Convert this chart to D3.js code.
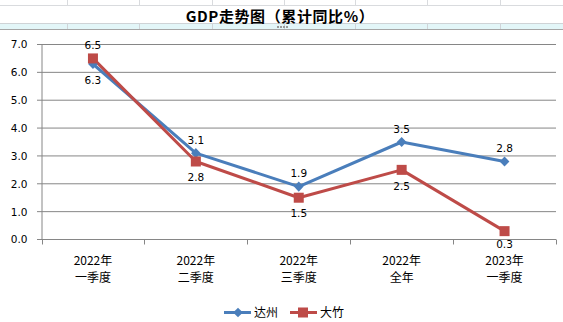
<!DOCTYPE html>
<html><head><meta charset="utf-8">
<script src="https://cdn.jsdelivr.net/npm/d3@7"></script>
<style>body{margin:0;background:#fff;}svg{display:block;}</style>
</head><body>
<svg id="c" width="563" height="322"></svg>
<script>
const categories = [["2022年","一季度"],["2022年","二季度"],["2022年","三季度"],["2022年","全年"],["2023年","一季度"]];
const dazhou = [6.3, 3.1, 1.9, 3.5, 2.8];
const dazhu = [6.5, 2.8, 1.5, 2.5, 0.3];
const dazhouPos = ["below","above","above","above","above"];
const dazhuPos = ["above","below","below","below","below"];
const yTicks = [0,1,2,3,4,5,6,7];
const seriesNames = ["达州","大竹"];

const svg = d3.select("#c");
const numFont = "'DejaVu Sans', sans-serif";
const cjkFont = "'Noto Sans CJK SC', sans-serif";

// spreadsheet background
const colX = [67,139,212,284,355,427,500];
svg.append("line").attr("x1",0).attr("x2",563).attr("y1",5.5).attr("y2",5.5).attr("stroke","#d9dbde");
colX.forEach(x=>{
  svg.append("line").attr("x1",x+0.5).attr("x2",x+0.5).attr("y1",0).attr("y2",5).attr("stroke","#d9dbde");
});
svg.append("rect").attr("x",0).attr("y",23).attr("width",563).attr("height",6).attr("fill","#e3f6f8");
svg.append("line").attr("x1",0).attr("x2",563).attr("y1",23.5).attr("y2",23.5).attr("stroke","#cfd3d6");
colX.forEach(x=>{
  svg.append("line").attr("x1",x+0.5).attr("x2",x+0.5).attr("y1",23).attr("y2",29).attr("stroke","#d0d4d8");
});
svg.append("line").attr("x1",0).attr("x2",563).attr("y1",29.5).attr("y2",29.5).attr("stroke","#a6a6a6");
[277,280,283,286].forEach(x=>{
  svg.append("rect").attr("x",x).attr("y",26).attr("width",2).attr("height",2).attr("fill","#9a9a9a");
});

// title
svg.append("text").attr("x",280).attr("y",21.5).attr("text-anchor","middle")
  .attr("font-family",cjkFont).attr("font-weight","bold").attr("font-size",15).attr("letter-spacing",0.6)
  .attr("fill","#000").text("GDP走势图（累计同比%）");

const x = d3.scaleBand().domain(d3.range(categories.length)).range([41.5,556]);
const y = d3.scaleLinear().domain([0,7]).range([239.5,44.5]);

// gridlines
const g = svg.append("g");
yTicks.forEach(t=>{
  g.append("line").attr("x1",37).attr("x2",556).attr("y1",y(t)).attr("y2",y(t)).attr("stroke","#868686").attr("stroke-width",1);
});
// y axis
const yAxis = d3.axisLeft(y).tickValues(yTicks).tickFormat(d3.format(".1f")).tickSize(0).tickPadding(14);
const ya = svg.append("g").attr("transform","translate(41.5,0)").call(yAxis);
ya.select(".domain").attr("stroke","#868686");
ya.selectAll("text").attr("font-family",numFont).attr("font-size",10.5).attr("fill","#000");
// x axis
svg.append("line").attr("x1",41.5).attr("x2",556).attr("y1",y(0)).attr("y2",y(0)).attr("stroke","#868686");
const bounds = d3.range(categories.length+1).map(i=> i<categories.length ? x(i) : x(categories.length-1)+x.bandwidth());
bounds.forEach(b=>{
  svg.append("line").attr("x1",Math.round(b)+0.5).attr("x2",Math.round(b)+0.5).attr("y1",y(0)).attr("y2",y(0)+5).attr("stroke","#868686");
});
categories.forEach((c,i)=>{
  const cx = x(i)+x.bandwidth()/2;
  const t = svg.append("text").attr("x",cx).attr("text-anchor","middle").attr("font-family",cjkFont).attr("font-size",12).attr("fill","#000");
  t.append("tspan").attr("x",cx).attr("y",265).text(c[0]);
  t.append("tspan").attr("x",cx).attr("y",282).text(c[1]);
});

const line = d3.line().x((d,i)=>x(i)+x.bandwidth()/2).y(d=>y(d));
const blue = "#4a7ebb", red = "#be4b48";
svg.append("path").datum(dazhou).attr("d",line).attr("fill","none").attr("stroke",blue).attr("stroke-width",3).attr("stroke-linejoin","round");
svg.append("path").datum(dazhu).attr("d",line).attr("fill","none").attr("stroke",red).attr("stroke-width",3).attr("stroke-linejoin","round");

const diamond = d3.symbol().type(d3.symbolDiamond2).size(60);
dazhou.forEach((v,i)=>{
  svg.append("path").attr("d",diamond()).attr("transform",`translate(${x(i)+x.bandwidth()/2},${y(v)}) scale(1,1.05)`).attr("fill",blue);
});
dazhu.forEach((v,i)=>{
  svg.append("rect").attr("x",x(i)+x.bandwidth()/2-5).attr("y",y(v)-5).attr("width",10).attr("height",10).attr("fill",red);
});

function labels(data,pos){
  data.forEach((v,i)=>{
    const cx = x(i)+x.bandwidth()/2;
    const cy = pos[i]==="above" ? y(v)-13 : Math.min(y(v)+16, 244.5);
    svg.append("text").attr("x",cx).attr("y",cy).attr("dy","0.35em").attr("text-anchor","middle")
      .attr("font-family",numFont).attr("font-size",10.5).attr("fill","#000").text(d3.format(".1f")(v));
  });
}
labels(dazhou,dazhouPos);
labels(dazhu,dazhuPos);

// legend
const ly = 312.5;
svg.append("line").attr("x1",224).attr("x2",251).attr("y1",ly).attr("y2",ly).attr("stroke",blue).attr("stroke-width",3);
svg.append("path").attr("d",diamond()).attr("transform",`translate(238,${ly})`).attr("fill",blue);
svg.append("text").attr("x",254).attr("y",ly).attr("dy","0.35em").attr("font-family",cjkFont).attr("font-size",12).text(seriesNames[0]);
svg.append("line").attr("x1",290).attr("x2",317).attr("y1",ly).attr("y2",ly).attr("stroke",red).attr("stroke-width",3);
svg.append("rect").attr("x",298).attr("y",ly-5).attr("width",10).attr("height",10).attr("fill",red);
svg.append("text").attr("x",320).attr("y",ly).attr("dy","0.35em").attr("font-family",cjkFont).attr("font-size",12).text(seriesNames[1]);
</script>
</body></html>
